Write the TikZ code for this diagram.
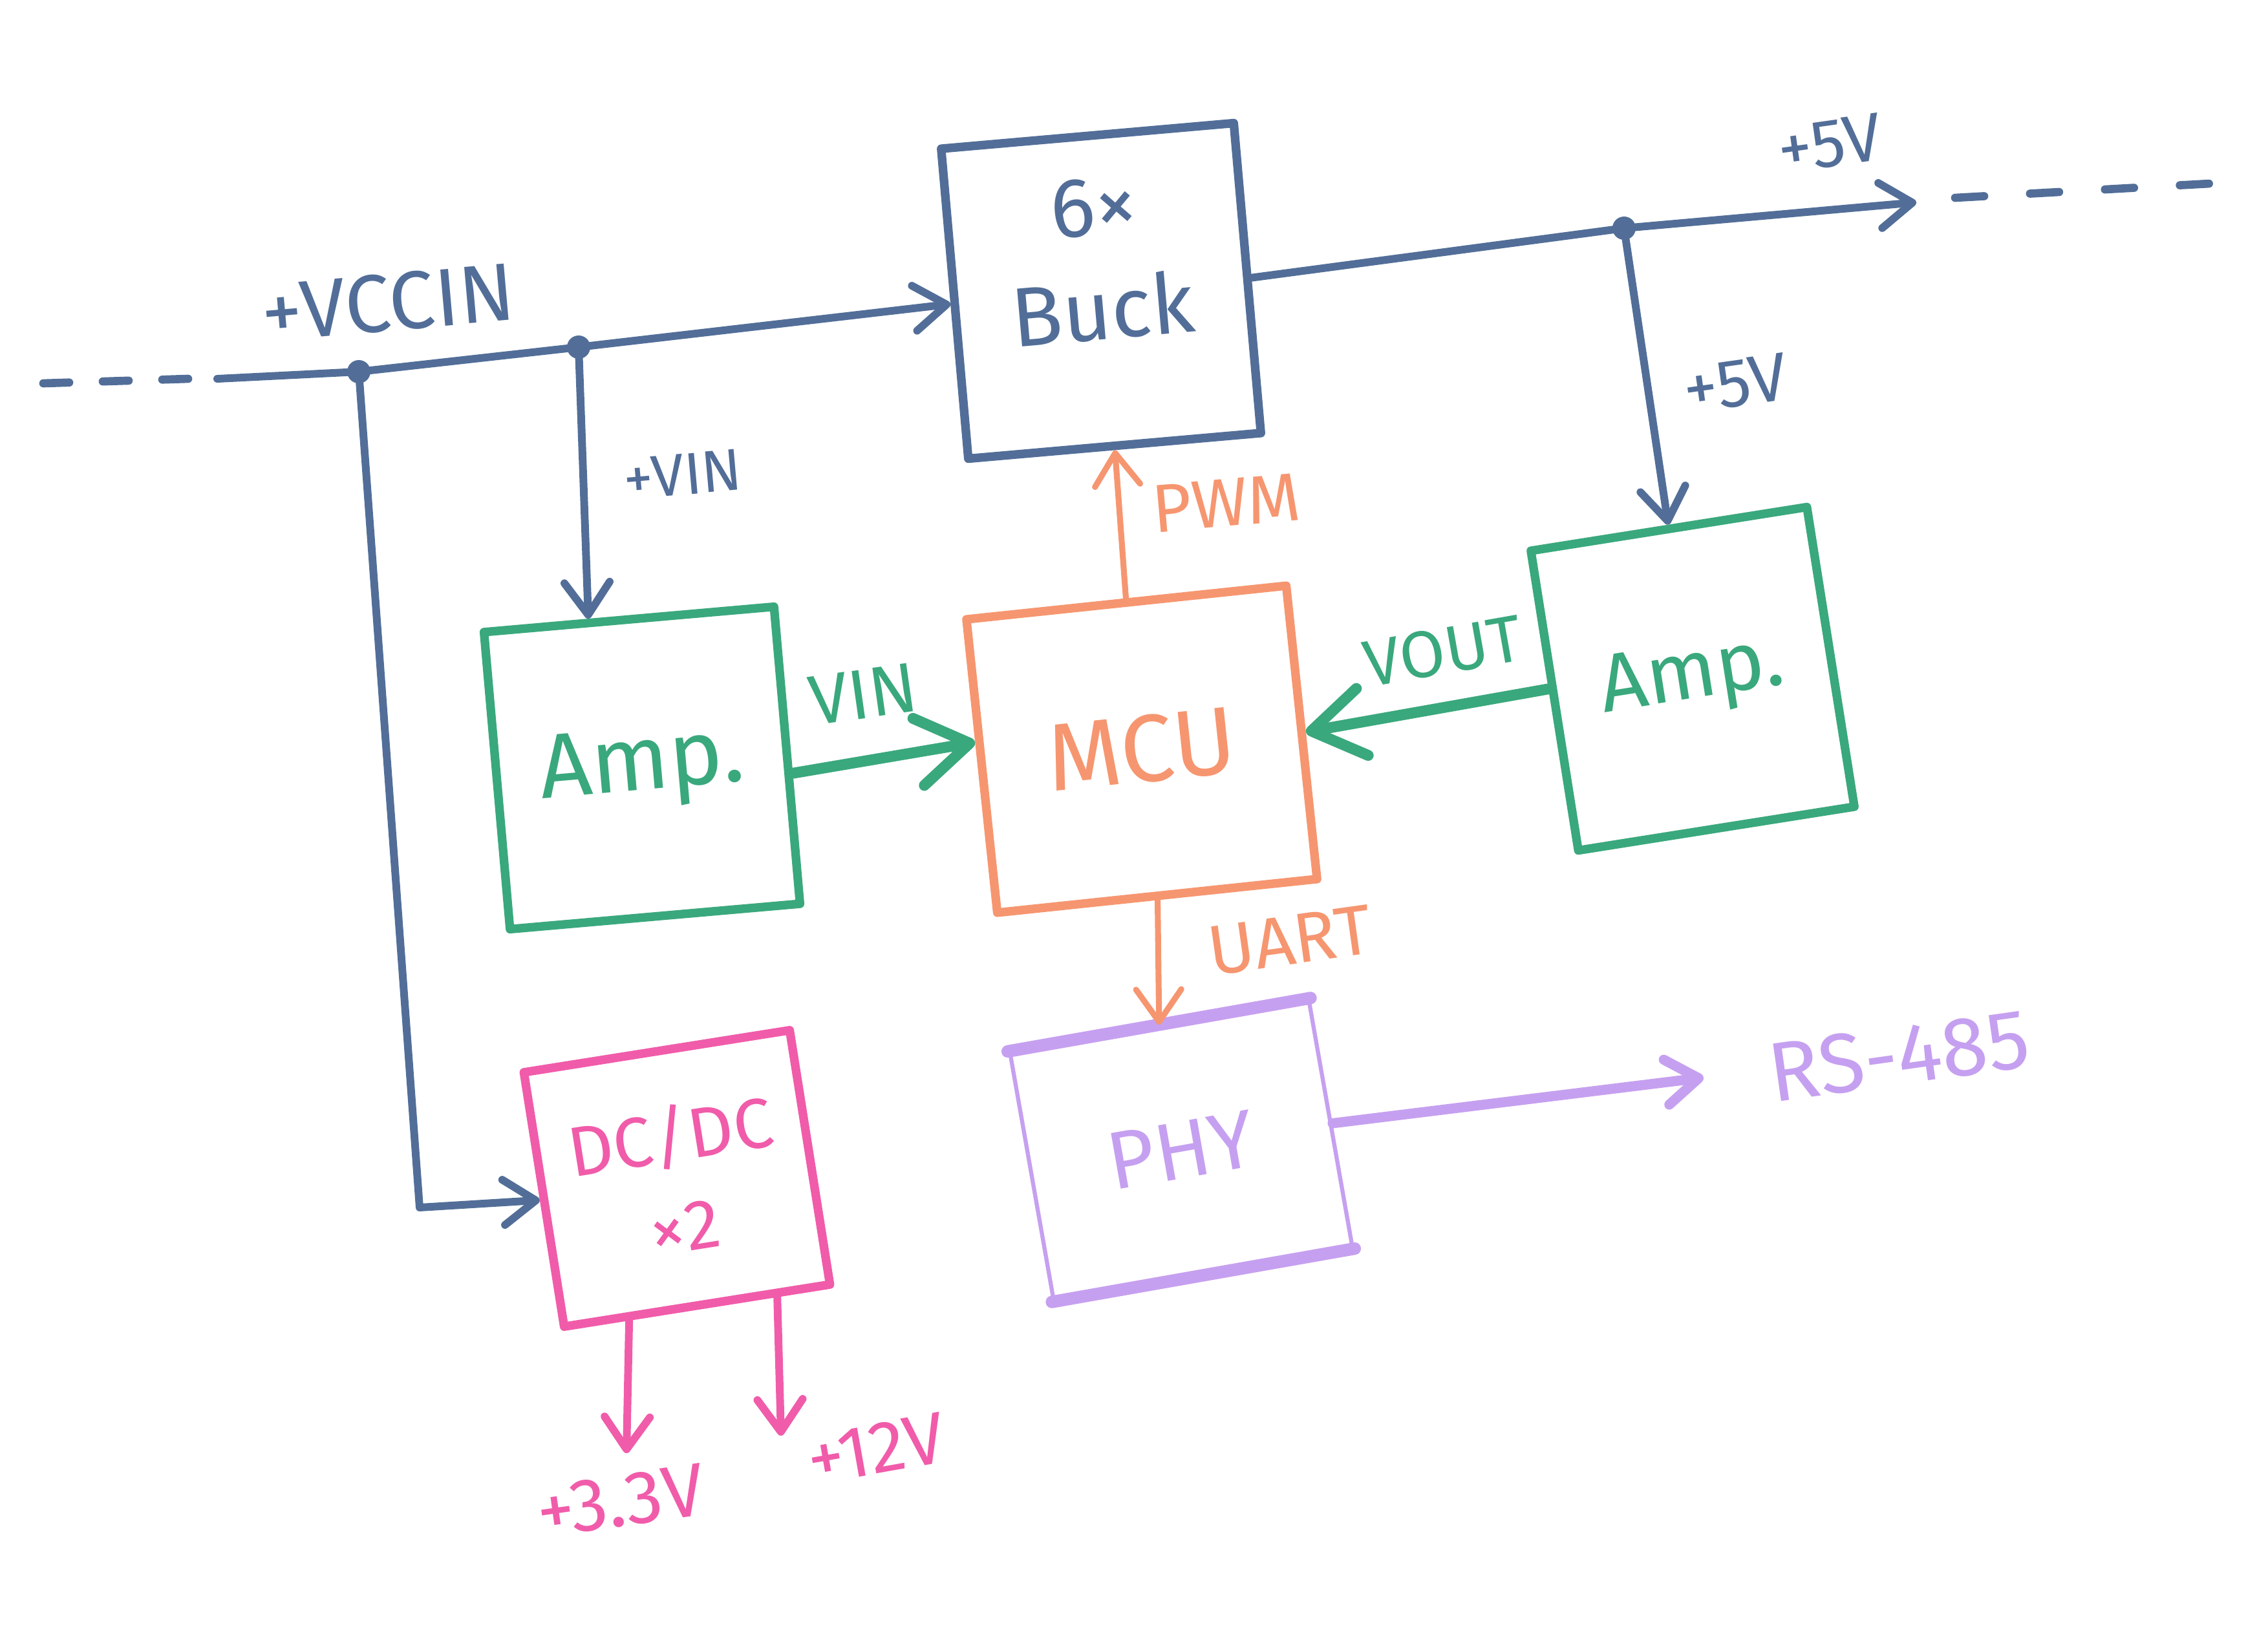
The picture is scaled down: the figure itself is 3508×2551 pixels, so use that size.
\documentclass[tikz,border=0pt]{standalone}
\usepackage{fontspec}
\setmainfont{Fira Sans}
\usetikzlibrary{arrows.meta,calc}
\definecolor{cblue}{RGB}{82,110,152}
\definecolor{cgreen}{RGB}{58,168,125}
\definecolor{corange}{RGB}{246,150,112}
\definecolor{cpink}{RGB}{240,92,170}
\definecolor{cviolet}{RGB}{198,160,240}
\newcommand\setfs[2]{\fontsize{#1}{#2}\selectfont}
\begin{document}
\begin{tikzpicture}[x=0.01cm,y=-0.01cm,
  box/.style={draw, line width=3.8pt, inner sep=0pt, align=center, line join=round},
  wire/.style={line width=3.4pt, line cap=round, line join=round},
  barb/.style={-{Straight Barb[round,length=0.5cm,width=0.7cm]}},
  bigbarb/.style={-{Straight Barb[round,length=0.8cm,width=1.05cm]}},
  dot/.style={circle, fill, inner sep=0pt, minimum size=0.36cm},
  lbl/.style={inner sep=0pt}]
\useasboundingbox (0,0) rectangle (3508,2551);

% blocks
\node[box, draw=cblue, text=cblue, minimum width=4.54cm, minimum height=4.81cm, rotate=5, font=\setfs{37}{46}, text depth=1.0cm] (buck) at (1703,450) {6×\\Buck};
\node[box, draw=cgreen, text=cgreen, minimum width=4.5cm, minimum height=4.61cm, rotate=5, font=\setfs{40}{48}] (ampl) at (993,1188) {Amp.};
\node[box, draw=corange, text=corange, minimum width=4.97cm, minimum height=4.56cm, rotate=6, font=\setfs{42}{50}] (mcu) at (1766,1159) {MCU};
\node[box, draw=cgreen, text=cgreen, minimum width=4.32cm, minimum height=4.69cm, rotate=9, font=\setfs{36}{44}] (ampr) at (2618,1050) {Amp.};
\node[box, draw=cpink, text=cpink, minimum width=4.16cm, minimum height=3.98cm, rotate=9, font=\setfs{31}{40}] (dcdc) at (1047,1823) {DC/DC\\×2};
\node[box, draw=cviolet, text=cviolet, line width=1.8pt, minimum width=4.69cm, minimum height=3.87cm, rotate=10, font=\setfs{36}{44}] (phy) at (1827,1779) {PHY};
\draw[cviolet, line width=5.5pt, line cap=round] (phy.north west) -- (phy.north east);
\draw[cviolet, line width=5.5pt, line cap=round] (phy.south west) -- (phy.south east);

% VCCIN bus
\coordinate (dl1) at (67,593);
\coordinate (dl2) at (291,586);
\coordinate (l0) at (336,586);
\coordinate (j1) at (555,575);
\coordinate (j2) at (895,537);
\draw[cblue, line width=3.6pt, line cap=round, dash pattern=on 0.4cm off 0.52cm] (dl1) -- (dl2);
\draw[cblue, wire, barb] (l0) -- (j1) -- (j2) -- (buck.west);
\node[dot, cblue] (d1) at (j1) {};
\node[dot, cblue] (d2) at (j2) {};
\node[lbl, cblue, font=\setfs{36}{42}, rotate=5] (lvcc) at (600,468) {+VCCIN};

% to DC/DC
\coordinate (c1) at (649,1868);
\draw[cblue, wire, barb] (d1.center) -- (c1) -- (dcdc.west);

% to left amp
\draw[cblue, wire, barb] (d2.center) -- ($(ampl.north west)!0.365!(ampl.north east)$);
\node[lbl, cblue, font=\setfs{26}{30}, rotate=5] (lvin) at (1056,734) {+VIN};

% 5V output
\coordinate (j3) at (2512,353);
\coordinate (r5) at (2964,313);
\coordinate (dr1) at (3024,306);
\coordinate (dr2) at (3418,284);
\draw[cblue, wire, barb] (buck.east) -- (j3) -- (r5);
\draw[cblue, line width=3.6pt, line cap=round, dash pattern=on 0.45cm off 0.71cm] (dr1) -- (dr2);
\node[dot, cblue] (d3) at (j3) {};
\node[lbl, cblue, font=\setfs{30}{34}, rotate=8] (l5a) at (2830,222) {+5V};
\draw[cblue, wire, barb] (d3.center) -- (ampr.north);
\node[lbl, cblue, font=\setfs{30}{34}, rotate=8] (l5b) at (2684,593) {+5V};

% PWM
\draw[corange, line width=2.6pt, line cap=round, barb] (mcu.north) -- (buck.south);
\node[lbl, corange, font=\setfs{30}{34}, rotate=5] (lpwm) at (1897,778) {PWM};

% VIN / VOUT
\draw[cgreen, line width=4.8pt, line cap=round, bigbarb] ($(ampl.south east)!0.44!(ampl.north east)$) -- ($(mcu.south west)!0.58!(mcu.north west)$);
\node[lbl, cgreen, font=\setfs{31}{36}, rotate=8] (lvin2) at (1335,1074) {VIN};
\draw[cgreen, line width=4.8pt, line cap=round, bigbarb] ($(ampr.south west)!0.54!(ampr.north west)$) -- (mcu.east);
\node[lbl, cgreen, font=\setfs{29}{34}, rotate=10] (lvout) at (2232,1007) {VOUT};

% UART
\draw[corange, line width=2.6pt, line cap=round, barb] (mcu.south) -- (phy.north);
\node[lbl, corange, font=\setfs{31}{36}, rotate=8] (luart) at (1995,1455) {UART};

% RS-485
\coordinate (rs) at (2635,1667);
\draw[cviolet, line width=4.4pt, line cap=round, barb] (phy.east) -- (rs);
\node[lbl, cviolet, font=\setfs{37}{42}, rotate=8] (lrs) at (2937,1633) {RS-485};

% DC/DC outputs
\coordinate (v33) at (969,2248);
\coordinate (v12) at (1208,2221);
\draw[cpink, line width=3.4pt, line cap=round, barb] ($(dcdc.south west)!0.25!(dcdc.south east)$) -- (v33);
\draw[cpink, line width=3.4pt, line cap=round, barb] ($(dcdc.south west)!0.79!(dcdc.south east)$) -- (v12);
\node[lbl, cpink, font=\setfs{33}{38}, rotate=8] (l33) at (960,2322) {+3.3V};
\node[lbl, cpink, font=\setfs{32}{36}, rotate=10] (l12) at (1355,2241) {+12V};
\end{tikzpicture}
\end{document}
